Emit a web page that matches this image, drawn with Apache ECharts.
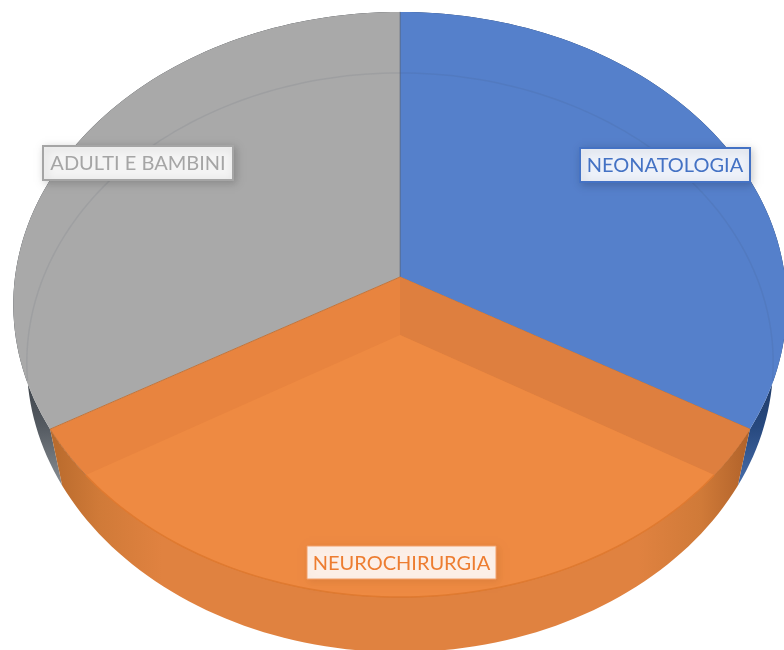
<!DOCTYPE html>
<html>
<head>
<meta charset="utf-8">
<style>html,body{margin:0;padding:0;background:#fff}#c{width:784px;height:650px}</style>
<script src="https://cdn.jsdelivr.net/npm/echarts@6/dist/echarts.min.js"></script>
</head>
<body>
<div id="c"></div>
<script>
const categories = ['NEONATOLOGIA', 'NEUROCHIRURGIA', 'ADULTI E BAMBINI'];
const sliceValues = [1, 1, 1];
const faceColors = ['#5580cb', '#ee8a42', '#a9a9a9'];
const textColors = ['#4472c4', '#ed7d31', '#a5a5a5'];
const labelBoxes = [
  {x: 580, y: 148, w: 170, h: 34, bg: '#edf1f9', border: '#4472c4', bw: 2, sh: 0.18},
  {x: 307, y: 546, w: 189, h: 33, bg: '#fcefe7', border: '#f3a06a', bw: 1, sh: 0.08},
  {x: 43, y: 146, w: 190, h: 34, bg: '#f4f4f4', border: '#a5a5a5', bw: 2, sh: 0.18}
];

// Perspective discs: top face and floor of the translucent 3D pie
const topDisc = {cx: 400, c: 277, a: 385, b: 290, k: -0.094};
const floorDisc = {cx: 400, c: 335, a: 371.5, b: 287, k: -0.095};

function project(d, s, t) {
  const X = s * Math.sin(t), Y = -s * Math.cos(t), w = 1 + d.k * Y;
  return [d.cx + d.a * X / w, d.c + d.b * Y / w];
}
function unproject(d, p) {
  const v = (p[1] - d.c) / d.b, Y = v / (1 - d.k * v);
  const X = (p[0] - d.cx) * (1 + d.k * Y) / d.a;
  return {r: Math.hypot(X, Y), t: Math.atan2(X, -Y)};
}
function arc(d, t0, t1) {
  const n = 80, pts = [];
  for (let i = 0; i <= n; i++) pts.push(project(d, 1, t0 + (t1 - t0) * i / n));
  return pts;
}
function exitPoint(t) {
  let lo = 0, hi = 1;
  for (let i = 0; i < 30; i++) {
    const m = (lo + hi) / 2;
    if (unproject(topDisc, project(floorDisc, m, t)).r < 1) lo = m; else hi = m;
  }
  return project(floorDisc, lo, t);
}
const grad = (x, y, x2, y2, stops) => new echarts.graphic.LinearGradient(x, y, x2, y2,
  stops.map(s => ({offset: s[0], color: s[1]})), true);
const poly = (points, fill, z2, stroke, lw) => ({
  type: 'polygon', z2, shape: {points},
  style: {fill, stroke: stroke || 'none', lineWidth: lw || 0}
});

const total = sliceValues.reduce((a, b) => a + b, 0);
const angles = [0];
sliceValues.forEach(v => angles.push(angles[angles.length - 1] + v / total * Math.PI * 2));

function renderSlice(params) {
  const i = params.dataIndex, t0 = angles[i], t1 = angles[i + 1];
  const tArc = arc(topDisc, t0, t1), fArc = arc(floorDisc, t0, t1);
  const band = tArc.concat(fArc.slice().reverse());
  const apex = project(topDisc, 0, 0), fApex = project(floorDisc, 0, 0);
  const kids = [];
  if (i === 1) {
    const wall = grad(50, 0, 750, 0, [[0, '#b86a2c'], [0.07, '#d07a38'], [0.16, '#e08240'], [0.84, '#e08240'], [0.93, '#d07a38'], [1, '#b0622a']]);
    kids.push(poly(band, wall, 3));
    kids.push(poly([apex].concat(tArc), '#e8843f', 4, '#c0743c', 1));
    const cA = exitPoint(t0), cB = exitPoint(t1);
    const tA = unproject(topDisc, cA).t, tB = unproject(topDisc, cB).t + Math.PI * 2;
    kids.push(poly([apex, fApex, cA].concat(arc(topDisc, tA, t0)), '#de7f3f', 5));
    kids.push(poly([fApex, cA].concat(arc(topDisc, tA, tB), [cB]), faceColors[i], 6));
    kids.push({type: 'polyline', z2: 7, shape: {points: arc(topDisc, tA, tB)},
      style: {fill: 'none', stroke: '#e07a30', lineWidth: 1.5}});
  } else {
    const wall = i === 0
      ? grad(0, 350, 0, 490, [[0, '#1a3158'], [0.55, '#27497f'], [1, '#4a70ad']])
      : grad(0, 350, 0, 490, [[0, '#2f343a'], [0.55, '#555b62'], [1, '#8c9196']]);
    kids.push(poly(band, wall, 1));
    kids.push(poly([apex].concat(tArc), faceColors[i], 2));
    const seen = fArc.filter(p => unproject(topDisc, p).r < 0.998);
    kids.push({type: 'polyline', z2: 2, shape: {points: seen},
      style: {fill: 'none', stroke: 'rgba(60,70,90,0.09)', lineWidth: 1.5}});
    const edgeT = i === 0 ? t0 : t1;
    kids.push({type: 'line', z2: 2, shape: {x1: apex[0], y1: apex[1], x2: project(topDisc, 1, edgeT)[0], y2: project(topDisc, 1, edgeT)[1]},
      style: {stroke: 'rgba(90,100,120,0.55)', lineWidth: 1}});
  }
  const box = labelBoxes[i];
  kids.push({type: 'rect', z2: 20, shape: {x: box.x, y: box.y, width: box.w, height: box.h},
    style: {fill: box.bg, stroke: box.border, lineWidth: box.bw, shadowBlur: 8, shadowOffsetX: 2, shadowOffsetY: 2, shadowColor: 'rgba(0,0,0,' + box.sh + ')'}});
  kids.push({type: 'text', z2: 21, x: box.x + box.w / 2, y: box.y + box.h / 2 + 1,
    style: {text: categories[i], fill: textColors[i], font: '20px Lato, "Open Sans", sans-serif', align: 'center', verticalAlign: 'middle'}});
  return {type: 'group', children: kids};
}

const chart = echarts.init(document.getElementById('c'), null, {renderer: 'canvas'});
chart.setOption({
  backgroundColor: '#ffffff',
  animation: false,
  series: [{
    type: 'custom',
    coordinateSystem: 'none',
    silent: true,
    clip: false,
    data: sliceValues.map((v, i) => ({name: categories[i], value: v})),
    renderItem: renderSlice
  }]
});
</script>
</body>
</html>
